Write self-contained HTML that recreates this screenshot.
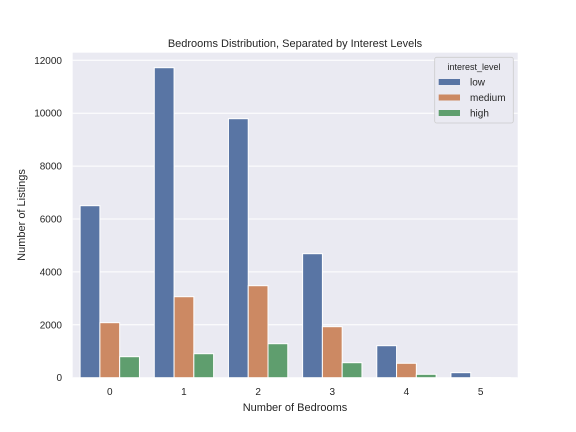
<!DOCTYPE html>
<html><head><meta charset="utf-8"><style>
html,body{margin:0;padding:0;background:#fff;}
svg{display:block;font-family:"Liberation Sans","DejaVu Sans",sans-serif;}
</style></head><body>
<svg id="chart" width="576" height="432" viewBox="0 0 576 432">
<rect x="72.7" y="52.7" width="445" height="325" fill="#eaeaf2"/>
<g id="grid"></g>
<g id="bars"></g>
<g id="ticks"></g>
<text x="295" y="47" text-anchor="middle" font-size="11" fill="#262626">Bedrooms Distribution, Separated by Interest Levels</text>
<text x="295" y="411" text-anchor="middle" font-size="11" fill="#262626">Number of Bedrooms</text>
<text x="25" y="215" text-anchor="middle" font-size="11" fill="#262626" transform="rotate(-90 25 215)">Number of Listings</text>
<g>
<rect x="434.7" y="57.3" width="78.6" height="65.7" rx="2" fill="#eaeaf2" stroke="#cccccc" stroke-width="0.8"/>
<text x="474" y="70" text-anchor="middle" font-size="9" fill="#262626">interest_level</text>
<g id="legend-entries"></g>
</g>
</svg>
<script>
const categories = ["0","1","2","3","4","5"];
const seriesNames = ["low","medium","high"];
const lowValues = [6503, 11720, 9792, 4688, 1210, 190];
const mediumValues = [2080, 3062, 3478, 1928, 545, 8];
const highValues = [794, 907, 1285, 567, 128, 3];
const yTicks = [0, 2000, 4000, 6000, 8000, 10000, 12000];
const colors = ["#5975a4","#cc8963","#5f9e6e"];

const NS = "http://www.w3.org/2000/svg";
const plotL = 72.7, plotR = 517.7, plotB = 377.7, y12k = 60.3;
const yMax = 12000;
function yScale(v){ return plotB - v * (plotB - y12k) / yMax; }
const band = (plotR - plotL) / categories.length;
function xCenter(i){ return plotL + band * (i + 0.5); }
function mk(tag, attrs){ const e = document.createElementNS(NS, tag); for (const k in attrs) e.setAttribute(k, attrs[k]); return e; }

const grid = document.getElementById("grid");
const ticks = document.getElementById("ticks");
yTicks.forEach(t => {
  const y = yScale(t);
  const l = mk("line", {x1: plotL, x2: plotR, y1: y, y2: y, stroke: "#fff", "stroke-width": 1});
  
  
  grid.appendChild(l);
  const tx = mk("text", {x: 62, y: y + 3.5, "text-anchor": "end", "font-size": 10, fill: "#262626"});
  tx.textContent = t;
  
  
  ticks.appendChild(tx);
});
categories.forEach((c, i) => {
  const tx = mk("text", {x: xCenter(i), y: 395, "text-anchor": "middle", "font-size": 10, fill: "#262626"});
  tx.textContent = c;
  
  
  ticks.appendChild(tx);
});

const bars = document.getElementById("bars");
const allSeries = [lowValues, mediumValues, highValues];
const barW = band * 0.8 / 3;
allSeries.forEach((vals, s) => {
  vals.forEach((v, i) => {
    const x = xCenter(i) - band * 0.4 + s * barW;
    const y = yScale(v);
    const r = mk("rect", {x: x, y: y, width: barW, height: plotB - y, fill: colors[s], stroke: "#fff", "stroke-width": 1});
    
    
    bars.appendChild(r);
  });
});

const le = document.getElementById("legend-entries");
seriesNames.forEach((n, s) => {
  const y = 82 + s * 15.5;
  const r = mk("rect", {x: 438.7, y: y - 3, width: 21.3, height: 6, fill: colors[s]});
  
  
  le.appendChild(r);
  const t = mk("text", {x: 470, y: y + 3.5, "font-size": 10, fill: "#262626"});
  t.textContent = n;
  
  
  le.appendChild(t);
});
</script>
</body></html>
